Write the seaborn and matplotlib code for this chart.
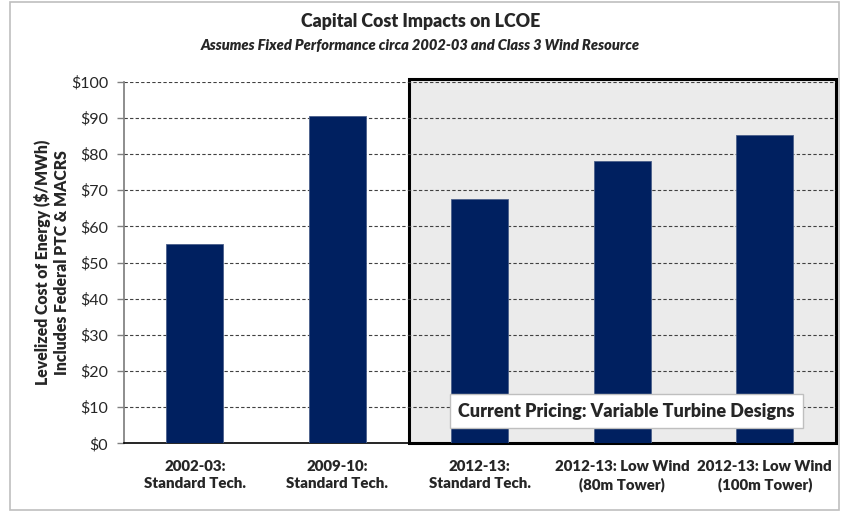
import matplotlib
matplotlib.use("Agg")
import matplotlib.pyplot as plt
import seaborn as sns
import pandas as pd
from matplotlib.patches import Rectangle

categories = ["2002-03:\nStandard Tech.", "2009-10:\nStandard Tech.", "2012-13:\nStandard Tech.",
              "2012-13: Low Wind\n(80m Tower)", "2012-13: Low Wind\n(100m Tower)"]
values = [55.2, 90.4, 67.5, 78.0, 85.3]
yticks = [0, 10, 20, 30, 40, 50, 60, 70, 80, 90, 100]
ytick_labels = ["$" + str(v) for v in yticks]

sns.set_theme(style="white")
plt.rcParams['font.family'] = ['Lato', 'DejaVu Sans']
W = "heavy"

df = pd.DataFrame({"cat": categories, "val": values})

fig = plt.figure(figsize=(8.41, 5.12), dpi=100)
ax = fig.add_axes([0.1469, 0.1342, 0.994 - 0.1469, 0.7062])

# shaded region
ax.add_patch(Rectangle((1.5, 0), 3.0, 100.8, facecolor="#EBEBEB", edgecolor="black",
                       linewidth=2.2, zorder=0.5, clip_on=False))

sns.barplot(data=df, x="cat", y="val", color="#002060", width=0.4, saturation=1,
            edgecolor="#4A5F8A", linewidth=0.6, ax=ax, zorder=3)

ax.set_xlim(-0.5, 4.5)
ax.set_ylim(0, 100)
ax.set_yticks(yticks)
ax.set_yticklabels(ytick_labels, fontsize=11.5)
ax.set_xticks(range(len(categories)))
ax.set_xticklabels(categories, fontsize=10.8, fontweight=W, linespacing=1.35)
ax.set_xticks([i - 0.5 for i in range(len(categories) + 1)], minor=True)
ax.tick_params(axis="x", which="major", length=0, pad=12)
ax.tick_params(axis="x", which="minor", length=5, color="#808080", width=1)
ax.tick_params(axis="y", length=5, color="#808080", width=1, left=True, pad=6)
for v in yticks[1:]:
    ax.axhline(v, color="#404040", linestyle=(0, (3, 2)), linewidth=0.8, zorder=1)
ax.set_xlabel("")
ax.set_ylabel("Levelized Cost of Energy ($/MWh)\nIncludes Federal PTC & MACRS",
              fontsize=11.3, fontweight=W, labelpad=1)
for s in ["top", "right"]:
    ax.spines[s].set_visible(False)
ax.spines["left"].set_color("#808080")
ax.spines["bottom"].set_color("black")
ax.spines["bottom"].set_linewidth(1.2)
ax.set_facecolor("white")

ax.text(3.03, 8.9, "Current Pricing: Variable Turbine Designs", ha="center", va="center",
        fontsize=13, fontweight=W, zorder=5,
        bbox=dict(boxstyle="square,pad=0.45", facecolor="white", edgecolor="#BFBFBF", linewidth=1))

fig.text(0.5, 1 - 22 / 512, "Capital Cost Impacts on LCOE", ha="center", va="center",
         fontsize=12.8, fontweight=W)
fig.text(0.5, 1 - 45 / 512, "Assumes Fixed Performance circa 2002-03 and Class 3 Wind Resource",
         ha="center", va="center", fontsize=10.5, fontweight=W, style="italic")

fig.patches.append(Rectangle((10 / 841, 2 / 512), 1 - 12 / 841, 1 - 4 / 512, transform=fig.transFigure,
                             fill=False, edgecolor="#BFBFBF", linewidth=1.2))

fig.savefig("out.png", dpi=100)
